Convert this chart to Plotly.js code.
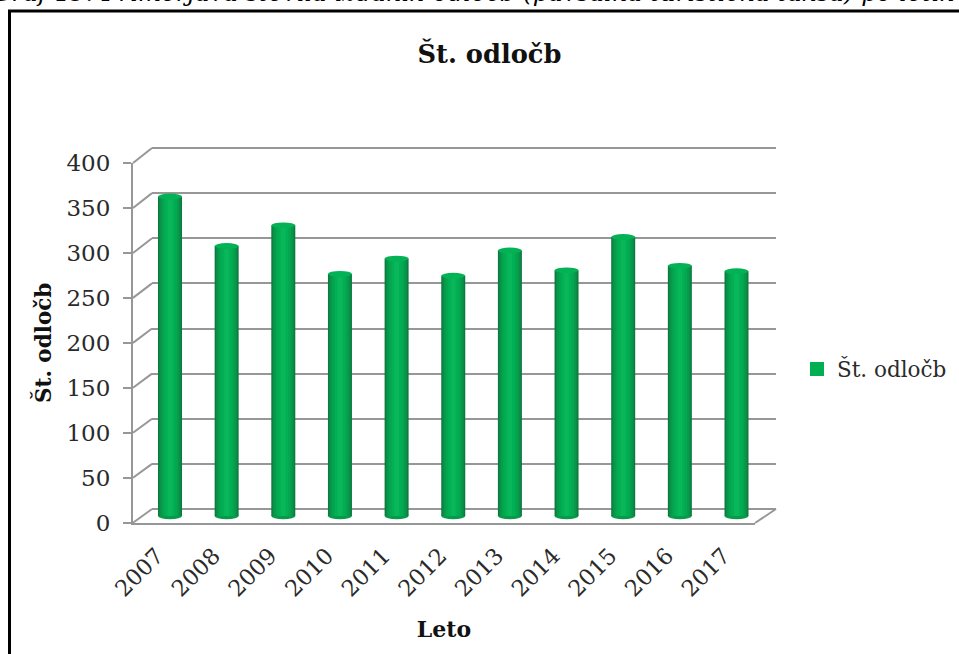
<!DOCTYPE html>
<html><head><meta charset="utf-8">
<script src="https://cdn.plot.ly/plotly-3.0.1.min.js"></script>
<style>html,body{margin:0;padding:0;background:#fff;overflow:hidden}</style>
</head><body><div id="chart" style="width:959px;height:654px"></div>
<script>
const years = ['2007','2008','2009','2010','2011','2012','2013','2014','2015','2016','2017'];
const odlocbe = [355,300,323,269,286,267,295,273,310,278,272];
const yTicks = [0,50,100,150,200,250,300,350,400];
const seriesName = 'Št. odločb';
const chartTitle = 'Št. odločb';
const xTitle = 'Leto';
const yTitle = 'Št. odločb';
const caption = 'Graf 19: Primerjava števila izdanih odločb (pavšalna turistična taksa) po letih';

const W = 959, H = 654;
const FONT = '"DejaVu Serif", serif';
const px = x => x / W, py = y => 1 - y / H;
const STEP = 56.65, GRID = '#979797';
// nested widths give the cylinder shading
const shades = [[1.00,'#0a7a3e'],[0.90,'#0a8c47'],[0.78,'#08994c'],[0.62,'#05a650'],[0.42,'#02b054'],[0.20,'#0ab65a']];
const BW = 24 / STEP;

const traces = [
  {type:'scatter',mode:'none',x:years,y:yTicks.slice(0,1),xaxis:'x',yaxis:'y',showlegend:false,hoverinfo:'skip'},
  {type:'scatter',mode:'none',x:years,y:yTicks.slice(0,1),xaxis:'x2',yaxis:'y2',showlegend:false,hoverinfo:'skip'}
];
shades.forEach(([f,c])=>traces.push({
  type:'bar',x:years,y:odlocbe,width:BW*f,name:seriesName,xaxis:'x3',yaxis:'y3',
  marker:{color:c,line:{width:0}},showlegend:false,hoverinfo:'skip'
}));
// legend swatch
traces.push({type:'bar',x:[years[0]],y:[null],name:seriesName,xaxis:'x3',yaxis:'y3',marker:{color:'#00b050',line:{color:'#00b050',width:2}},showlegend:true,hoverinfo:'skip'});

const shapes = [];
// frame
shapes.push({type:'line',xref:'paper',yref:'paper',x0:px(9.5),x1:px(9.5),y0:py(10),y1:py(654),line:{color:'#000',width:3}});
shapes.push({type:'line',xref:'paper',yref:'paper',x0:px(8),x1:px(959),y0:py(11),y1:py(11),line:{color:'#000',width:3}});
// depth lines of the left wall
const frontY = v => 522.7 - v*(522.7-163)/400, backY = v => 509 - v*(509-148)/400;
yTicks.forEach(v=>shapes.push({type:'line',xref:'paper',yref:'paper',x0:px(133),x1:px(152),y0:py(frontY(v)),y1:py(backY(v)),line:{color:GRID,width:2}}));
// floor right edge
shapes.push({type:'line',xref:'paper',yref:'paper',x0:px(755),x1:px(776),y0:py(523),y1:py(509),line:{color:GRID,width:2}});
// cylinder caps
years.forEach((yr,i)=>{
  shapes.push({type:'circle',xref:'x3',yref:'y3',layer:'below',x0:i-BW/2,x1:i+BW/2,y0:-3.5,y1:3.5,fillcolor:'#08994c',line:{width:0}});
  shapes.push({type:'circle',xref:'x3',yref:'y3',layer:'above',x0:i-BW/2,x1:i+BW/2,y0:odlocbe[i]-3.2,y1:odlocbe[i]+3.2,fillcolor:'#03b255',line:{width:0}});
});

const layout = {
  width:W,height:H,margin:{l:0,r:0,t:0,b:0,autoexpand:false},autosize:false,
  paper_bgcolor:'#fff',plot_bgcolor:'rgba(0,0,0,0)',barmode:'overlay',
  font:{family:FONT,color:'#2a2a2a',size:21},
  title:{text:chartTitle,x:px(489.5),y:py(54),xanchor:'center',yanchor:'middle',font:{family:FONT,size:25.7,color:'#111',weight:'bold'}},
  // back wall with gridlines (range padded so the 0 and 400 lines are kept)
  xaxis:{domain:[px(152),px(776)],type:'category',range:[-0.5,10.5],showgrid:false,showticklabels:false,ticks:'',zeroline:false,showline:false,anchor:'y',categoryorder:'array',categoryarray:years},
  yaxis:{domain:[py(512.61),py(144.39)],range:[-4,404],tickvals:yTicks,showgrid:true,gridcolor:GRID,gridwidth:2,showticklabels:false,ticks:'',zeroline:false,showline:false,anchor:'x'},
  // front axes with labels
  xaxis2:{domain:[px(133),px(755)],type:'category',categoryorder:'array',categoryarray:years,range:[(133-157)/STEP,(755-157)/STEP],tickvals:years,ticktext:years,tickangle:-45,ticks:'',showgrid:false,zeroline:false,showline:true,linecolor:GRID,linewidth:2,anchor:'y2',ticklabelstandoff:9,tickfont:{family:FONT,size:22.5,color:'#2a2a2a'},
    title:{text:xTitle,standoff:21,font:{family:FONT,size:22,color:'#111',weight:'bold'}}},
  yaxis2:{domain:[py(522.7),py(163)],range:[0,400],tickvals:yTicks,ticks:'outside',ticklen:8,tickwidth:2,tickcolor:GRID,showgrid:false,zeroline:false,showline:true,linecolor:GRID,linewidth:2,anchor:'x2',ticklabelstandoff:8,tickfont:{family:FONT,size:23,color:'#2a2a2a'},
    title:{text:yTitle,standoff:9,font:{family:FONT,size:21.5,color:'#111',weight:'bold'}}},
  // plane of the cylinders
  xaxis3:{domain:[px(133),px(776)],type:'category',categoryorder:'array',categoryarray:years,range:[(133-170)/STEP,(776-170)/STEP],visible:false,anchor:'y3'},
  yaxis3:{domain:[py(520.5),py(156)],range:[-5,400],visible:false,anchor:'x3'},
  showlegend:true,
  legend:{x:px(797),y:py(369),xanchor:'left',yanchor:'middle',bgcolor:'rgba(0,0,0,0)',font:{family:FONT,size:21.5,color:'#2a2a2a'},itemwidth:30},
  annotations:[{text:caption,xref:'paper',yref:'paper',x:px(957),y:py(8.5),xanchor:'right',yanchor:'bottom',showarrow:false,font:{family:FONT,size:24.5,style:'italic',color:'#000'}}],
  shapes:shapes
};
Plotly.newPlot('chart',traces,layout,{staticPlot:true,displayModeBar:false});
</script></body></html>
